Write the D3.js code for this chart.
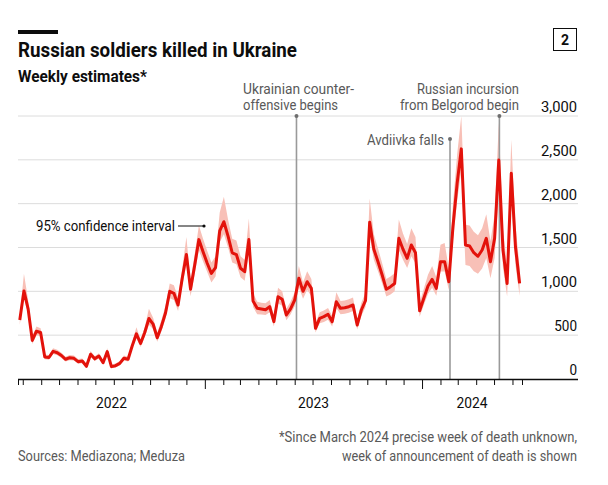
<!DOCTYPE html>
<html><head><meta charset="utf-8">
<script src="https://cdn.jsdelivr.net/npm/d3@7"></script>
<style>body{margin:0;background:#fff} text{font-family:Roboto,"Liberation Sans",sans-serif}</style>
</head><body><svg id="c" width="608" height="485"></svg>
<script>
// ---- data (weekly, starting 24 Feb 2022) ----
const firstWeek = new Date(2022, 1, 24);
const killed = [673,1005,800,440,545,530,250,245,315,300,268,225,243,236,198,205,145,283,230,262,
186,312,141,152,178,236,225,380,515,405,530,690,627,470,600,756,1000,977,844,1150,
1420,1023,1300,1590,1452,1320,1205,1270,1690,1794,1630,1440,1420,1263,1224,1590,890,806,798,790,
825,654,939,910,730,800,901,1149,1000,1110,1034,578,692,711,738,654,882,806,813,825,
844,616,787,893,1788,1480,1338,1186,1023,1053,1090,1605,1480,1377,1528,1440,778,920,1060,1136,
1034,1338,1338,1110,1737,2232,2625,1528,1517,1441,1400,1472,1605,1338,1605,2498,1472,1090,2346,1509,1090];
const ciLow = [620,920,740,400,500,490,225,220,285,270,240,200,215,210,175,180,125,255,205,235,
165,280,122,132,155,210,200,345,465,365,480,620,570,425,545,690,920,900,775,1060,
1310,945,1200,1470,1340,1220,1100,1170,1560,1650,1500,1330,1310,1160,1120,1460,820,740,735,730,
760,600,860,835,670,735,830,1050,915,1015,945,530,635,650,675,600,810,740,745,755,
775,565,720,820,1640,1360,1230,1090,940,965,1000,1470,1360,1265,1400,1320,710,845,970,1040,
950,1225,1225,1015,1580,2030,2380,1300,1290,1230,1200,1260,1380,1150,1380,2150,1270,940,2040,1300,950];
const ciHigh = [730,1200,900,490,600,580,280,275,350,335,300,255,275,268,228,235,170,320,260,295,
212,350,165,178,205,268,255,420,590,450,590,800,700,530,670,840,1090,1070,930,1260,
1620,1120,1430,1750,1600,1460,1330,1400,1900,2080,1820,1600,1580,1400,1360,1830,980,880,870,865,
900,720,1040,1000,800,880,990,1290,1100,1230,1140,640,760,780,810,720,990,890,895,910,
930,680,870,985,2060,1650,1490,1320,1140,1170,1210,1820,1660,1540,1720,1620,870,1030,1190,1290,
1160,1530,1550,1260,2000,2560,3000,1760,1750,1680,1640,1720,1880,1570,1880,2920,1720,1280,2730,1760,1270];
const yTicks = [0, 500, 1000, 1500, 2000, 2500, 3000];
const years = [
  {label: "2022", from: new Date(2022, 1, 21), to: new Date(2023, 0, 1)},
  {label: "2023", from: new Date(2023, 0, 1), to: new Date(2024, 0, 1)},
  {label: "2024", from: new Date(2024, 0, 1), to: new Date(2024, 5, 17)}
];
const events = [
  {date: new Date(2023, 5, 4), lines: ["Ukrainian counter-", "offensive begins"]},
  {date: new Date(2024, 1, 17), lines: ["Avdiivka falls"]},
  {date: new Date(2024, 4, 10), lines: ["Russian incursion", "from Belgorod begin"]}
];

const weeks = killed.map((_, i) => d3.timeDay.offset(firstWeek, 7 * i));
const rows = weeks.map((d, i) => ({date: d, v: killed[i], lo: ciLow[i], hi: ciHigh[i]}));

const svg = d3.select("#c");
const x = d3.scaleTime().domain([new Date(2022, 1, 21), new Date(2024, 5, 17)]).range([18, 522]);
const y = d3.scaleLinear().domain([0, 3000]).range([379, 116]);
const left = 18, right = 578;

function txt(px, py, s, o) {
  const t = svg.append("text").attr("x", px).attr("y", py).text(s)
    .attr("font-size", o.size || 14).attr("font-weight", o.weight || 400)
    .attr("fill", o.fill || "#0d0d0d").attr("text-anchor", o.anchor || "start");
  if (o.len) t.attr("textLength", o.len).attr("lengthAdjust", "spacingAndGlyphs");
  return t;
}

// header
svg.append("rect").attr("x", 18).attr("y", 30).attr("width", 40).attr("height", 4).attr("fill", "#0d0d0d");
txt(18, 57, "Russian soldiers killed in Ukraine", {size: 20, weight: 700, len: 279});
txt(18, 82, "Weekly estimates*", {size: 16, weight: 700, len: 129});
svg.append("rect").attr("x", 553.5).attr("y", 28.5).attr("width", 23).attr("height", 22)
  .attr("fill", "none").attr("stroke", "#0d0d0d").attr("stroke-width", 1);
txt(565, 45, "2", {size: 14, weight: 700, anchor: "middle"});

// grid
svg.append("g").selectAll("line").data(yTicks.filter(d => d > 0)).join("line")
  .attr("x1", left).attr("x2", right).attr("y1", d => y(d)).attr("y2", d => y(d))
  .attr("stroke", "#dcdcdc").attr("stroke-width", 1);
svg.append("g").selectAll("text").data(yTicks).join("text")
  .attr("x", 577).attr("y", d => y(d) - 4).attr("text-anchor", "end")
  .attr("font-size", 15).attr("fill", "#0d0d0d")
  .text(d => d3.format(",")(d))
  .attr("textLength", d => d3.format(",")(d).length * 7.6 - (d >= 1000 ? 2 : 0))
  .attr("lengthAdjust", "spacingAndGlyphs");

// band + line
svg.append("path").datum(rows)
  .attr("d", d3.area().x(d => x(d.date)).y0(d => y(d.lo)).y1(d => y(d.hi)))
  .attr("fill", "#f8c0b7");

// event lines
const evLen = [null, null, null];
events.forEach((e, k) => {
  const ex = x(e.date);
  const top = k === 1 ? 139 : 116;
  svg.append("line").attr("x1", ex).attr("x2", ex).attr("y1", top).attr("y2", 379)
    .attr("stroke", "#9a9a9a").attr("stroke-width", 1.6);
  svg.append("circle").attr("cx", ex).attr("cy", top).attr("r", 2).attr("fill", "#6e6e6e");
});

svg.append("path").datum(rows)
  .attr("d", d3.line().x(d => x(d.date)).y(d => y(d.v)))
  .attr("fill", "none").attr("stroke", "#e3120b").attr("stroke-width", 3).attr("stroke-linejoin", "round");

// event labels
txt(243, 94, events[0].lines[0], {size: 14, fill: "#595959", len: 111});
txt(243, 110, events[0].lines[1], {size: 14, fill: "#595959", len: 95});
txt(444, 145, events[1].lines[0], {size: 14, fill: "#595959", anchor: "end", len: 77});
txt(519, 94, events[2].lines[0], {size: 14, fill: "#595959", anchor: "end", len: 102});
txt(519, 110, events[2].lines[1], {size: 14, fill: "#595959", anchor: "end", len: 119});

// CI annotation
txt(36, 231, "95% confidence interval", {size: 14, len: 139});
svg.append("line").attr("x1", 178).attr("x2", 203).attr("y1", 226).attr("y2", 226)
  .attr("stroke", "#0d0d0d").attr("stroke-width", 1);
svg.append("circle").attr("cx", 204).attr("cy", 226).attr("r", 1.6).attr("fill", "#0d0d0d");

// x axis
const tickDates = [x.domain()[0], ...d3.timeMonth.range(new Date(2022, 2, 1), new Date(2024, 5, 2)), x.domain()[1]];
const ax = svg.append("g").attr("transform", "translate(0,379)")
  .call(d3.axisBottom(x).tickValues(tickDates).tickSize(6).tickSizeOuter(0).tickFormat(""));
ax.select(".domain").remove();
ax.selectAll(".tick line").attr("stroke", "#0d0d0d").attr("stroke-width", 1)
  .attr("y2", d => (d.getMonth() === 0 && d.getDate() === 1) ? 10 : 6);
svg.append("line").attr("x1", left).attr("x2", right).attr("y1", 379.5).attr("y2", 379.5)
  .attr("stroke", "#0d0d0d").attr("stroke-width", 1.3);
years.forEach(yr => {
  txt((x(yr.from) + x(yr.to)) / 2, 408, yr.label, {size: 15, anchor: "middle", len: 31});
});

// footer
txt(577, 442, "*Since March 2024 precise week of death unknown,", {size: 14, fill: "#595959", anchor: "end", len: 298});
txt(577, 461, "week of announcement of death is shown", {size: 14, fill: "#595959", anchor: "end", len: 235});
txt(18, 461, "Sources: Mediazona; Meduza", {size: 14, fill: "#595959", len: 167});
</script></body></html>
